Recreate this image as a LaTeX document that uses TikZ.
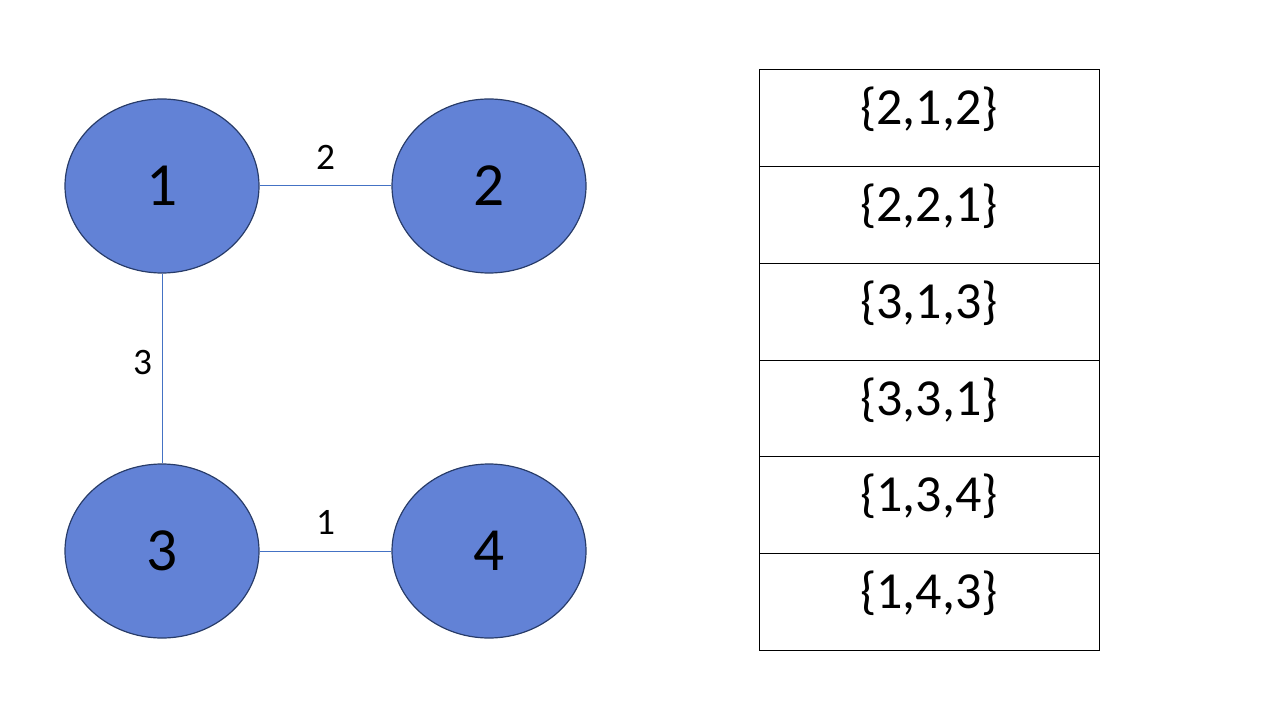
\documentclass[tikz,border=0pt]{standalone}
\usepackage{fontspec}
\setmainfont{Carlito}
\usetikzlibrary{shapes.geometric}
\definecolor{nodefill}{RGB}{98,130,214}
\definecolor{nodeline}{RGB}{40,60,105}
\definecolor{edgeblue}{RGB}{68,114,196}
\tikzset{
  vert/.style={ellipse, draw=nodeline, line width=0.9pt, fill=nodefill, minimum width=145.5pt, minimum height=130.5pt, inner sep=0pt, font=\fontsize{46}{48}\selectfont},
  edge/.style={draw=edgeblue, line width=0.75pt},
  wlabel/.style={font=\fontsize{28}{30}\selectfont, inner sep=0pt},
  cell/.style={draw=black, line width=0.75pt},
  celltext/.style={font=\fontsize{39}{41}\selectfont, anchor=base, inner sep=0pt}
}
\begin{document}
\begin{tikzpicture}[x=0.75pt, y=-0.75pt]
\useasboundingbox (0,0) rectangle (1280,720);
\node[vert] (n1) at (162,186) {\raisebox{-3pt}{1}};
\node[vert] (n2) at (489,186) {\raisebox{-3pt}{2}};
\node[vert] (n3) at (162,551) {\raisebox{-3pt}{3}};
\node[vert] (n4) at (489,551) {\raisebox{-3pt}{4}};
\draw[edge] (n1) -- node[wlabel, above=12pt] (l2) {2} (n2);
\draw[edge] (n3) -- node[wlabel, above=12pt] (l1) {1} (n4);
\draw[edge] (n1) -- node[wlabel, left=7pt, yshift=4.5pt] (l3) {3} (n3);
\foreach \i/\t in {0/{\{2,1,2\}},1/{\{2,2,1\}},2/{\{3,1,3\}},3/{\{3,3,1\}},4/{\{1,3,4\}},5/{\{1,4,3\}}} {
  \draw[cell] (759,{70+96.67*\i}) rectangle (1099,{70+96.67*(\i+1)});
  \node[celltext] (c\i) at (929,{70+96.67*\i+55}) {\t};
}
\end{tikzpicture}
\end{document}
